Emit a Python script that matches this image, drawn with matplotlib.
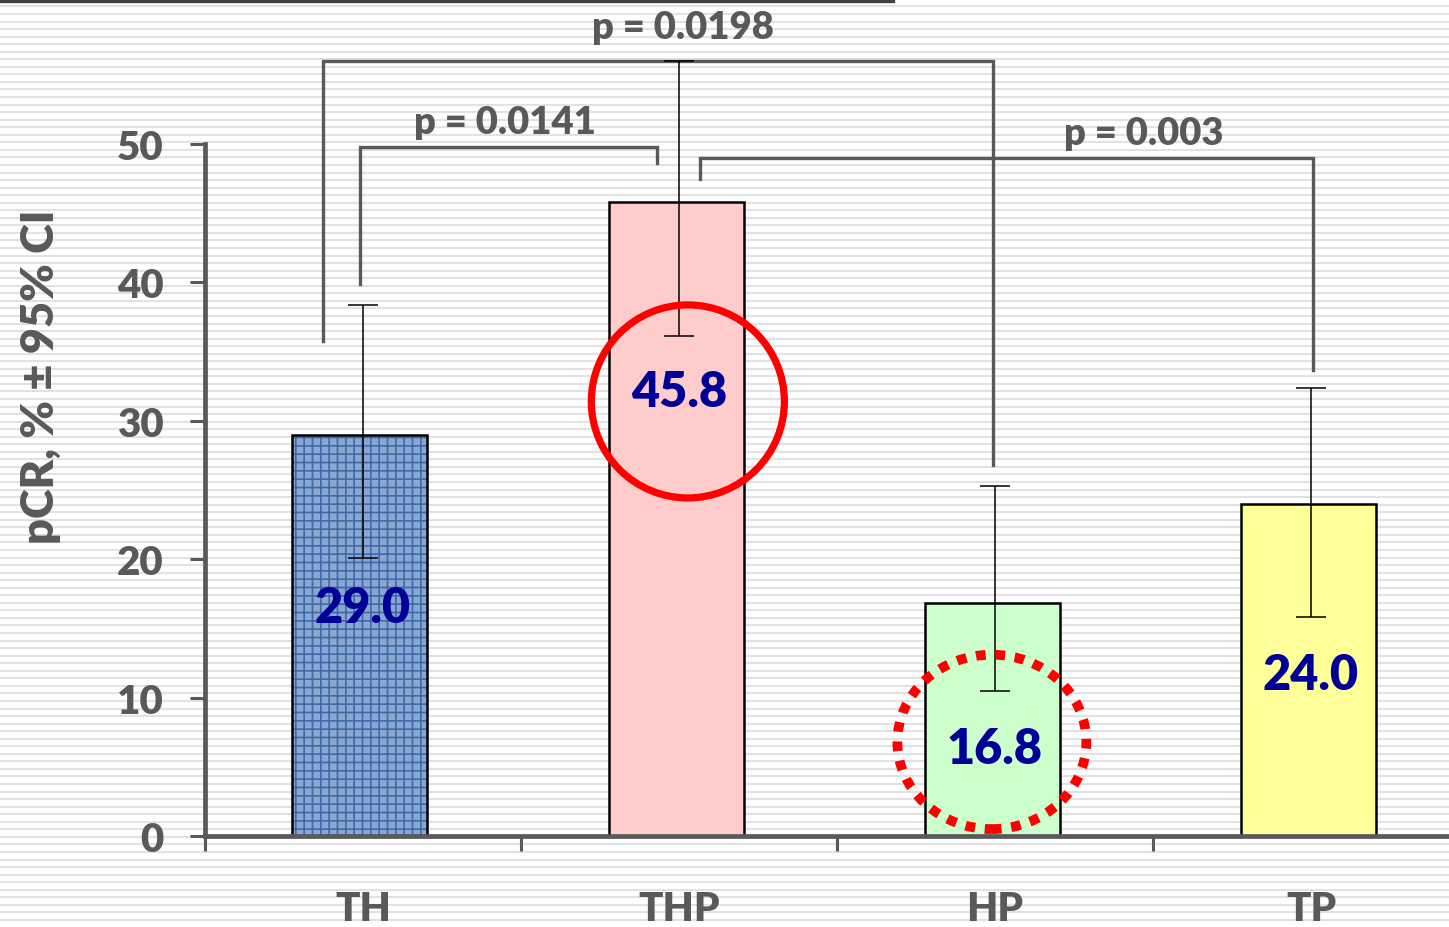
import numpy as np
import matplotlib.pyplot as plt
from matplotlib.patches import Ellipse
from matplotlib.lines import Line2D

# pCR by arm, with 95% confidence interval
arms = ["TH", "THP", "HP", "TP"]
pcr = [29.0, 45.8, 16.8, 24.0]
ci_low = [20.1, 36.1, 10.5, 15.8]
ci_high = [38.4, 56.0, 25.3, 32.4]

# pairwise comparisons (arm index pairs) and their p-values
pairs = [(0, 2), (0, 1), (1, 3)]
p_values = ["0.0198", "0.0141", "0.003"]

bar_colors = ["#8aa6d2", "#ffcccc", "#ccffcc", "#ffff99"]
grey = "#595959"
navy = "#000099"

plt.rcParams["font.family"] = ["Lato", "DejaVu Sans"]
plt.rcParams["font.weight"] = "heavy"
plt.rcParams["hatch.linewidth"] = 1.2
wt = "heavy"

W, H = 1449, 928
fig = plt.figure(figsize=(W / 100, H / 100), dpi=100)

# striped backdrop
bg = fig.add_axes([0, 0, 1, 1], zorder=-5)
bg.set_xlim(0, W)
bg.set_ylim(H, 0)
bg.axis("off")
bg.hlines(np.arange(7.4, H, 7.55), 0, W, color="#e2e2e2", lw=1.5)
fig.add_artist(Line2D([0, 893 / W], [1 - 1.5 / H] * 2, color="#404040", lw=2.4))

ax = fig.add_axes([205 / W, (H - 837) / H, 1 - 205 / W, (837 - 145) / H])
ax.patch.set_visible(False)
x = np.arange(len(arms))
ax.set_xlim(-0.5, -0.5 + 1244 / 316)
ax.set_ylim(0, 50)

# bars: TH gets a blue grid fill, the others are flat
width = 0.428
shift = np.array([0.012, 0.008, 0.008, 0.008])
ax.bar(x[:1] - shift[:1], pcr[:1], width, color=bar_colors[0], hatch="++",
       edgecolor="#3e6aa6", linewidth=0, zorder=2)
ax.bar(x[1:] - shift[1:], pcr[1:], width, color=bar_colors[1:], linewidth=0, zorder=2)
ax.bar(x - shift, pcr, width, fill=False, edgecolor="black", linewidth=1.8, zorder=3)

yerr = [np.array(pcr) - np.array(ci_low), np.array(ci_high) - np.array(pcr)]
eb = ax.errorbar(x, pcr, yerr=yerr, fmt="none", ecolor="black", elinewidth=1.1,
                 capsize=11, capthick=1.1, zorder=6)
for part in eb.get_children():
    part.set_clip_on(False)

# value labels inside the bars
label_y = [16.5, 32.1, 6.3, 11.7]
for xi, v, ly in zip(x, pcr, label_y):
    ax.text(xi, ly, f"{v:.1f}", ha="center", va="center", color=navy,
            fontsize=35, fontweight=wt, zorder=8)

# highlight rings
ax.add_patch(Ellipse((1.028, 31.4), 0.611, 13.95, fill=False, edgecolor="red",
                     lw=5.2, zorder=7, clip_on=False))
ax.add_patch(Ellipse((1.99, 6.8), 0.598, 12.6, fill=False, edgecolor="red",
                     lw=7, linestyle=(0, (1, 1)), zorder=7, clip_on=False))

# significance brackets: x ends, left/right leg bottoms, bar height, label pos
brackets = [
    ((-0.127, 1.994), (35.8, 26.8), 56.0, (1.013, 58.45)),
    ((-0.009, 0.930), (39.9, 48.6), 49.8, (0.449, 51.6)),
    ((1.066, 3.006), (47.5, 33.7), 49.0, (2.47, 50.8)),
]
for (pair, pv, (xs, legs, top, pos)) in zip(pairs, p_values, brackets):
    ax.plot([xs[0], xs[0], xs[1], xs[1]], [legs[0], top, top, legs[1]],
            color=grey, lw=2.4, solid_joinstyle="miter", clip_on=False, zorder=4)
    ax.text(pos[0], pos[1], f"p = {pv}", ha="center", va="center", color=grey,
            fontsize=27.5, fontweight=wt, clip_on=False)

# axes styling
for side in ["top", "right"]:
    ax.spines[side].set_visible(False)
for side in ["left", "bottom"]:
    ax.spines[side].set_color(grey)
    ax.spines[side].set_linewidth(3.4)
ax.spines["left"].set_zorder(5)
ax.spines["bottom"].set_zorder(5)

ax.set_yticks(range(0, 51, 10))
ax.tick_params(axis="y", direction="out", length=10.8, width=2.2, color=grey,
               pad=19, labelsize=29, labelcolor=grey)
ax.set_xticks([-0.5, 0.5, 1.5, 2.5])
ax.set_xticklabels([])
ax.tick_params(axis="x", which="major", direction="out", length=10.8, width=2.2,
               color=grey)
ax.set_xticks(x, minor=True)
ax.set_xticklabels(arms, minor=True)
ax.tick_params(axis="x", which="minor", length=0, pad=39, labelsize=29,
               labelcolor=grey)

fig.text(41 / W, 1 - 377 / H, "pCR, % \u00b1 95% CI", rotation=90, ha="center",
         va="center", color=grey, fontsize=32.5, fontweight=wt)

fig.savefig("out.png", dpi=100)
